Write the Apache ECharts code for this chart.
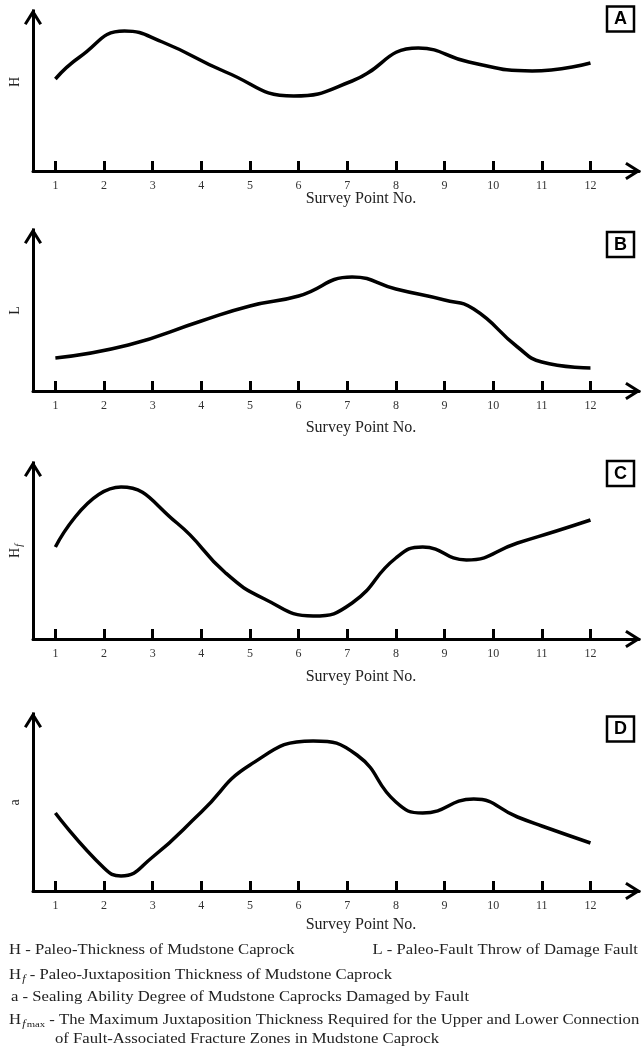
<!DOCTYPE html>
<html><head><meta charset="utf-8">
<script src="https://cdn.jsdelivr.net/npm/echarts@6/dist/echarts.min.js"></script>
<style>html,body{margin:0;padding:0;background:#fff}#c{width:643px;height:1049px}</style>
</head><body><div id="c"></div>
<script>
// ---- data (survey point position, relative value) ----
const surveyTicks = [1,2,3,4,5,6,7,8,9,10,11,12];
const thicknessX = [1, 1.5, 2.42, 3.2, 4.5, 5.9, 7.1, 8.46, 9.5, 10.8, 12];
const thicknessH = [92, 114, 140, 129, 99, 75, 90, 123, 109, 100, 108];
const throwX = [1, 2.5, 4, 5, 6, 7.1, 8, 9, 9.6, 10.5, 11, 12];
const throwL = [33, 46, 70, 85, 95, 114, 102, 91, 82, 44, 29, 23];
const juxtaX = [1, 2.35, 3.5, 4.5, 5.3, 6.3, 7.1, 8, 8.55, 9.45, 10.5, 11.3, 12];
const juxtaHf = [92, 152, 116, 66, 40, 23, 36, 81, 92, 79, 96, 108, 119];
const sealX = [1, 2, 2.35, 3, 4, 5, 6.3, 7.2, 8, 8.55, 9.6, 10.5, 11, 12];
const sealA = [78, 23, 15, 34, 79, 126, 150, 136, 89, 78, 92, 74, 65, 48];
const panelX = [thicknessX, throwX, juxtaX, sealX];
const panelY = [thicknessH, throwL, juxtaHf, sealA];
const panelLetters = ['A','B','C','D'];
const yAxisNames = ['{h|H}', '{h|L}', '{h|H}{s|f}', '{h|a}'];
const xAxisTitle = 'Survey Point No.';
const legendLeft = [
  '{h|H}{t| - Paleo-Thickness of Mudstone Caprock}',
  '{h|H}{s|f}{t| - Paleo-Juxtaposition Thickness of Mudstone Caprock}',
  '{t|a - Sealing Ability Degree of Mudstone Caprocks Damaged by Fault}',
  '{h|H}{s|f}{m|max}{t| - The Maximum Juxtaposition Thickness Required for the Upper and Lower Connection}',
  '{t|of Fault-Associated Fracture Zones in Mudstone Caprock}'
];
const legendRight = '{t|L - Paleo-Fault Throw of Damage Fault}';

// ---- layout ----
const serif = '"Liberation Serif","Times New Roman",Times,serif';
const panels = [
  {top: 11,  height: 160, titleY: 199, boxY: 6.5, namePad: [0,0,0,18]},
  {top: 230, height: 161, titleY: 428, boxY: 232, namePad: 0},
  {top: 463, height: 176, titleY: 677, boxY: 461, namePad: 0},
  {top: 714, height: 177, titleY: 925, boxY: 716.5, namePad: 0}
];
const gridLeft = 26.7, xMin = 0.54, xMax = 13, unitPx = 49.15;
const gridWidth = (xMax - xMin) * unitPx;
const chevron = 'path://M50,0 L100,80 L86,89 L50,32 L14,89 L0,80 Z';
const legendX = [9, 9, 11, 9, 55];
const legendY = [950, 975, 997, 1020, 1039];
const stretch = 1.19;

const richName = {
  h: {fontFamily: serif, fontSize: 14, color: '#222', lineHeight: 14, verticalAlign: 'top'},
  s: {fontFamily: serif, fontSize: 10, fontStyle: 'italic', color: '#222', lineHeight: 10, padding: [6,0,0,1], verticalAlign: 'top'}
};
const richLegend = {
  h: {fontFamily: serif, fontSize: 14, color: '#222', lineHeight: 14, verticalAlign: 'top'},
  t: {fontFamily: serif, fontSize: 14, color: '#222', lineHeight: 14, verticalAlign: 'top'},
  s: {fontFamily: serif, fontSize: 10, fontStyle: 'italic', color: '#222', lineHeight: 10, padding: [6,0,0,1], verticalAlign: 'top'},
  m: {fontFamily: serif, fontSize: 9, color: '#222', lineHeight: 9, padding: [7,0,0,1], verticalAlign: 'top'}
};

const grid = [], xAxis = [], yAxis = [], series = [], graphic = [];
panels.forEach((p, i) => {
  grid.push({left: gridLeft, top: p.top, width: gridWidth, height: p.height, containLabel: false});
  xAxis.push({
    type: 'value', gridIndex: i, min: xMin, max: xMax,
    axisLine: {show: true, lineStyle: {color: '#000', width: 3}, symbol: ['none', chevron], symbolSize: [18, 16], symbolOffset: [0, -6]},
    axisTick: {show: true, inside: true, length: 10, lineStyle: {color: '#000', width: 3}, customValues: surveyTicks},
    axisLabel: {show: true, customValues: surveyTicks, margin: 9, fontSize: 12, fontFamily: serif, color: '#333'},
    splitLine: {show: false}
  });
  yAxis.push({
    type: 'value', gridIndex: i, min: 0, max: p.height,
    axisLine: {show: true, lineStyle: {color: '#000', width: 3, cap: 'square'}, symbol: ['none', chevron], symbolSize: [18, 16], symbolOffset: [0, -6]},
    axisTick: {show: false}, axisLabel: {show: false}, splitLine: {show: false},
    name: yAxisNames[i], nameLocation: 'middle', nameGap: 11,
    nameTextStyle: {rich: richName, padding: p.namePad}
  });
  series.push({
    type: 'line', xAxisIndex: i, yAxisIndex: i, smooth: 0.5, showSymbol: false, silent: true,
    lineStyle: {color: '#000', width: 3.5},
    data: panelX[i].map((x, j) => [x, panelY[i][j]])
  });
  graphic.push({
    type: 'text', x: 361, y: p.titleY,
    style: {text: xAxisTitle, font: '16px ' + serif, fill: '#222', textAlign: 'center', textVerticalAlign: 'middle', align: 'center', verticalAlign: 'middle'}
  });
  graphic.push({
    type: 'rect', shape: {x: 607, y: p.boxY, width: 27, height: 25},
    style: {fill: '#fff', stroke: '#000', lineWidth: 2.5}
  });
  graphic.push({
    type: 'text', x: 620.5, y: p.boxY + 13,
    style: {text: panelLetters[i], font: 'bold 18px "Liberation Sans",Arial,sans-serif', fill: '#000', textAlign: 'center', textVerticalAlign: 'middle', align: 'center', verticalAlign: 'middle'}
  });
});

legendLeft.forEach((txt, k) => {
  graphic.push({
    type: 'text', x: legendX[k], y: legendY[k] - 7, scaleX: stretch,
    style: {text: txt, rich: richLegend, fill: '#222', textAlign: 'left', align: 'left', textVerticalAlign: 'top', verticalAlign: 'top'}
  });
});
graphic.push({
  type: 'text', x: 638, y: legendY[0] - 7, scaleX: stretch,
  style: {text: legendRight, rich: richLegend, fill: '#222', textAlign: 'right', align: 'right', textVerticalAlign: 'top', verticalAlign: 'top'}
});

const chart = echarts.init(document.getElementById('c'), null, {renderer: 'canvas'});
chart.setOption({
  backgroundColor: '#fff',
  animation: false,
  grid, xAxis, yAxis, series, graphic
});
</script>
</body></html>
